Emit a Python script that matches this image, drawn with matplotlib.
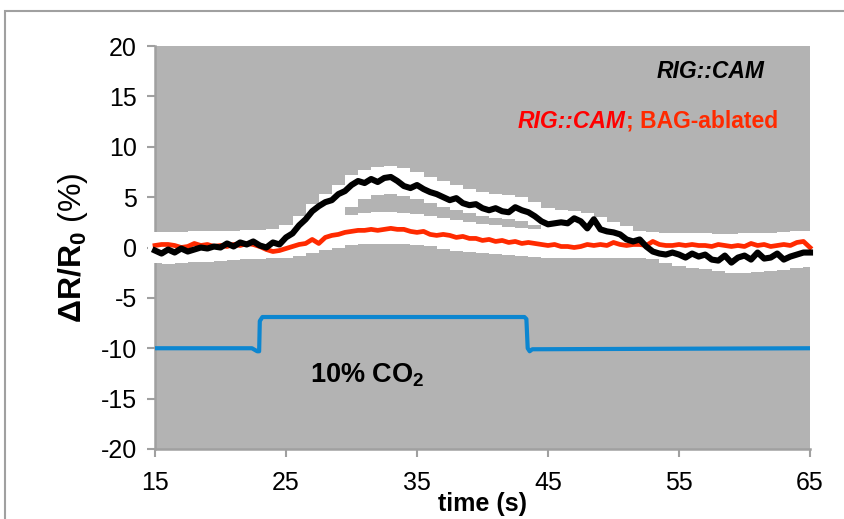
import matplotlib
matplotlib.use("Agg")
import matplotlib.pyplot as plt
import numpy as np
from matplotlib.patches import Rectangle

plt.rcParams["font.family"] = ["Liberation Sans", "DejaVu Sans"]
plt.rcParams["mathtext.fontset"] = "custom"
plt.rcParams["mathtext.rm"] = "Liberation Sans"
plt.rcParams["mathtext.bf"] = "Liberation Sans:bold"
plt.rcParams["mathtext.it"] = "Liberation Sans:italic"
plt.rcParams["axes.unicode_minus"] = False

# mean traces, sampled every 0.5 s
t_trace = np.arange(15, 65.01, 0.5)
rig_cam = [
    -0.3, -0.6, -0.2, -0.5, -0.1, -0.4, -0.2, 0.0, -0.1, 0.1,
    0.0, 0.4, 0.1, 0.5, 0.3, 0.6, 0.2, 0.0, 0.5, 0.3,
    1.0, 1.4, 2.2, 2.8, 3.6, 4.1, 4.5, 4.7, 5.3, 5.6,
    6.2, 6.6, 6.4, 6.8, 6.5, 6.9, 7.0, 6.6, 6.1, 5.9,
    6.2, 5.8, 5.5, 5.3, 5.0, 4.7, 4.9, 4.4, 4.2, 4.3,
    3.9, 3.7, 3.9, 3.6, 3.5, 4.0, 3.7, 3.5, 3.1, 2.6,
    2.3, 2.4, 2.5, 2.4, 2.9, 2.6, 1.9, 2.8, 1.8, 1.6,
    1.5, 1.3, 0.8, 0.6, 0.8, 0.1, -0.4, -0.6, -0.7, -0.5,
    -0.7, -1.0, -0.6, -0.9, -0.7, -1.2, -1.3, -0.8, -1.5, -1.0,
    -0.8, -1.2, -0.5, -1.1, -1.0, -0.6, -1.2, -0.9, -0.7, -0.5,
    -0.5,
]
rig_cam_bag = [
    0.2, 0.3, 0.3, 0.2, 0.0, 0.1, 0.4, 0.2, 0.3, 0.1,
    0.2, 0.1, 0.3, 0.2, 0.4, 0.3, 0.1, -0.2, -0.4, -0.3,
    -0.1, 0.1, 0.3, 0.4, 0.8, 0.4, 1.0, 1.2, 1.3, 1.5,
    1.6, 1.7, 1.7, 1.8, 1.7, 1.8, 1.9, 1.8, 1.8, 1.6,
    1.5, 1.6, 1.3, 1.2, 1.3, 1.2, 1.0, 1.1, 0.9, 0.9,
    0.7, 0.8, 0.6, 0.7, 0.5, 0.6, 0.4, 0.5, 0.4, 0.3,
    0.2, 0.3, 0.1, 0.1, 0.0, 0.1, 0.3, 0.2, 0.3, 0.2,
    0.5, 0.3, 0.2, 0.3, 0.3, 0.2, 0.6, 0.3, 0.2, 0.2,
    0.3, 0.2, 0.3, 0.2, 0.2, 0.1, 0.3, 0.2, 0.1, 0.2,
    0.1, 0.4, 0.2, 0.3, 0.1, 0.2, 0.3, 0.2, 0.5, 0.6,
    0.0,
]

# SEM envelopes, one value per second
t_band = np.arange(15, 66, 1)
rig_cam_hi = [
    1.2, 1.2, 1.2, 1.3, 1.3, 1.4, 1.6, 1.7, 1.7, 1.8,
    2.2, 3.1, 4.3, 5.3, 6.2, 7.2, 7.7, 8.0, 8.1, 7.9,
    7.5, 7.0, 6.6, 6.2, 5.8, 5.5, 5.3, 5.2, 5.0, 4.5,
    3.9, 3.7, 3.6, 3.4, 3.0, 2.5, 2.1, 1.6, 1.0, 0.6,
    0.4, 0.3, 0.2, 0.1, 0.0, 0.1, 0.2, 0.2, 0.3, 0.4,
    0.5,
]
rig_cam_lo = [
    -1.5, -1.6, -1.5, -1.4, -1.4, -1.3, -1.2, -1.1, -1.1, -1.0,
    -0.7, 0.0, 1.0, 2.0, 3.0, 4.0, 4.8, 5.2, 5.3, 5.1,
    4.8, 4.4, 4.0, 3.7, 3.4, 3.1, 2.9, 2.8, 2.6, 2.2,
    1.6, 1.3, 1.2, 1.0, 0.6, 0.2, -0.2, -0.6, -1.1, -1.5,
    -1.8, -2.0, -2.1, -2.3, -2.5, -2.5, -2.4, -2.3, -2.2, -2.0,
    -1.9,
]
rig_cam_bag_hi = [
    1.5, 1.5, 1.5, 1.6, 1.6, 1.6, 1.6, 1.6, 1.6, 1.5,
    1.5, 1.7, 2.1, 2.6, 3.0, 3.2, 3.4, 3.5, 3.5, 3.4,
    3.3, 3.1, 2.9, 2.7, 2.5, 2.3, 2.2, 2.0, 1.9, 1.8,
    1.7, 1.6, 1.5, 1.5, 1.5, 1.5, 1.5, 1.5, 1.5, 1.4,
    1.4, 1.4, 1.4, 1.3, 1.3, 1.4, 1.4, 1.4, 1.5, 1.6,
    1.6,
]
rig_cam_bag_lo = [
    -1.0, -1.0, -1.0, -1.0, -1.0, -1.0, -1.0, -1.0, -1.0, -1.0,
    -1.0, -0.8, -0.5, -0.2, 0.0, 0.2, 0.3, 0.3, 0.3, 0.3,
    0.2, 0.1, -0.1, -0.3, -0.4, -0.5, -0.6, -0.7, -0.8, -0.9,
    -1.0, -1.0, -1.0, -1.0, -1.0, -1.0, -1.0, -1.0, -1.0, -1.0,
    -1.0, -1.0, -1.0, -1.0, -1.0, -1.0, -1.0, -1.0, -1.0, -1.0,
    -1.0,
]

# CO2 stimulus trace
t_stim = [15, 22.4, 22.8, 22.95, 23.0, 23.2, 43.2, 43.35, 43.45, 43.6, 43.8, 65]
stim = [-10, -10, -10.3, -10.3, -7.3, -6.9, -6.9, -7.1, -10.0, -10.3, -10.1, -10]

x_ticks = [15, 25, 35, 45, 55, 65]
y_ticks = [-20, -15, -10, -5, 0, 5, 10, 15, 20]

fig = plt.figure(figsize=(8.45, 5.19), dpi=100)
ax = fig.add_axes([155 / 845, 1 - 449 / 519, 655 / 845, 403 / 519])
ax.set_facecolor("#b3b3b3")

# outer chart frame
fig.patches.append(Rectangle((5 / 845, -0.2), 1.2, 1.2 - 11 / 519,
                             transform=fig.transFigure, fill=False,
                             edgecolor="#a0a0a0", linewidth=1.5))


def band(lo, hi):
    # pad half a step on each side so the stepped envelope reaches past the ends
    x = np.r_[t_band[0] - 0.5, t_band, t_band[-1] + 0.5]
    lo = np.r_[lo[0], lo, lo[-1]]
    hi = np.r_[hi[0], hi, hi[-1]]
    ax.fill_between(x, lo, hi, step="mid", color="white", linewidth=0,
                    zorder=3, clip_on=False)


band(rig_cam_lo, rig_cam_hi)
band(rig_cam_bag_lo, rig_cam_bag_hi)

ax.plot(t_trace, rig_cam, color="black", linewidth=4.4, zorder=5,
        solid_joinstyle="round", clip_on=False)
ax.plot(t_trace, rig_cam_bag, color="#ff2a00", linewidth=3.4, zorder=4,
        solid_joinstyle="round", clip_on=False)
ax.plot(t_stim, stim, color="#0c86d0", linewidth=3.0, zorder=4,
        solid_joinstyle="round")

ax.set_xlim(15, 65)
ax.set_ylim(-20, 20)
ax.set_xticks(x_ticks)
ax.set_yticks(y_ticks)

for side in ["top", "right"]:
    ax.spines[side].set_visible(False)
for side in ["left", "bottom"]:
    ax.spines[side].set_color("#a0a0a0")
    ax.spines[side].set_linewidth(1.8)
ax.tick_params(axis="both", colors="#a0a0a0", labelcolor="black",
               length=6, width=1.5, labelsize=18)
ax.tick_params(axis="y", pad=7)
ax.tick_params(axis="x", pad=10)

ax.set_ylabel(r"$\mathbf{\Delta R/R_0}$ (%)", fontsize=23, labelpad=8)
ax.set_xlabel("time (s)", fontsize=18, fontweight="bold", labelpad=-2)

ax.text(53.3, 16.8, "RIG::CAM", fontsize=16.5, fontweight="bold",
        fontstyle="italic", color="black", va="baseline", zorder=6)
t1 = ax.text(42.7, 11.9, "RIG::CAM", fontsize=16.5, fontweight="bold",
             fontstyle="italic", color="#ff0000", va="baseline", zorder=6)
ax.annotate("; BAG-ablated", xy=(1, 0), xycoords=t1, fontsize=16.5,
            fontweight="bold", color="#ff2a00", va="bottom", ha="left",
            zorder=6)

ax.text(26.8, -13.4, r"$\mathbf{10\%\ CO_2}$", fontsize=19.5,
        va="baseline", ha="left", zorder=6)

fig.savefig("out.png", dpi=100)
